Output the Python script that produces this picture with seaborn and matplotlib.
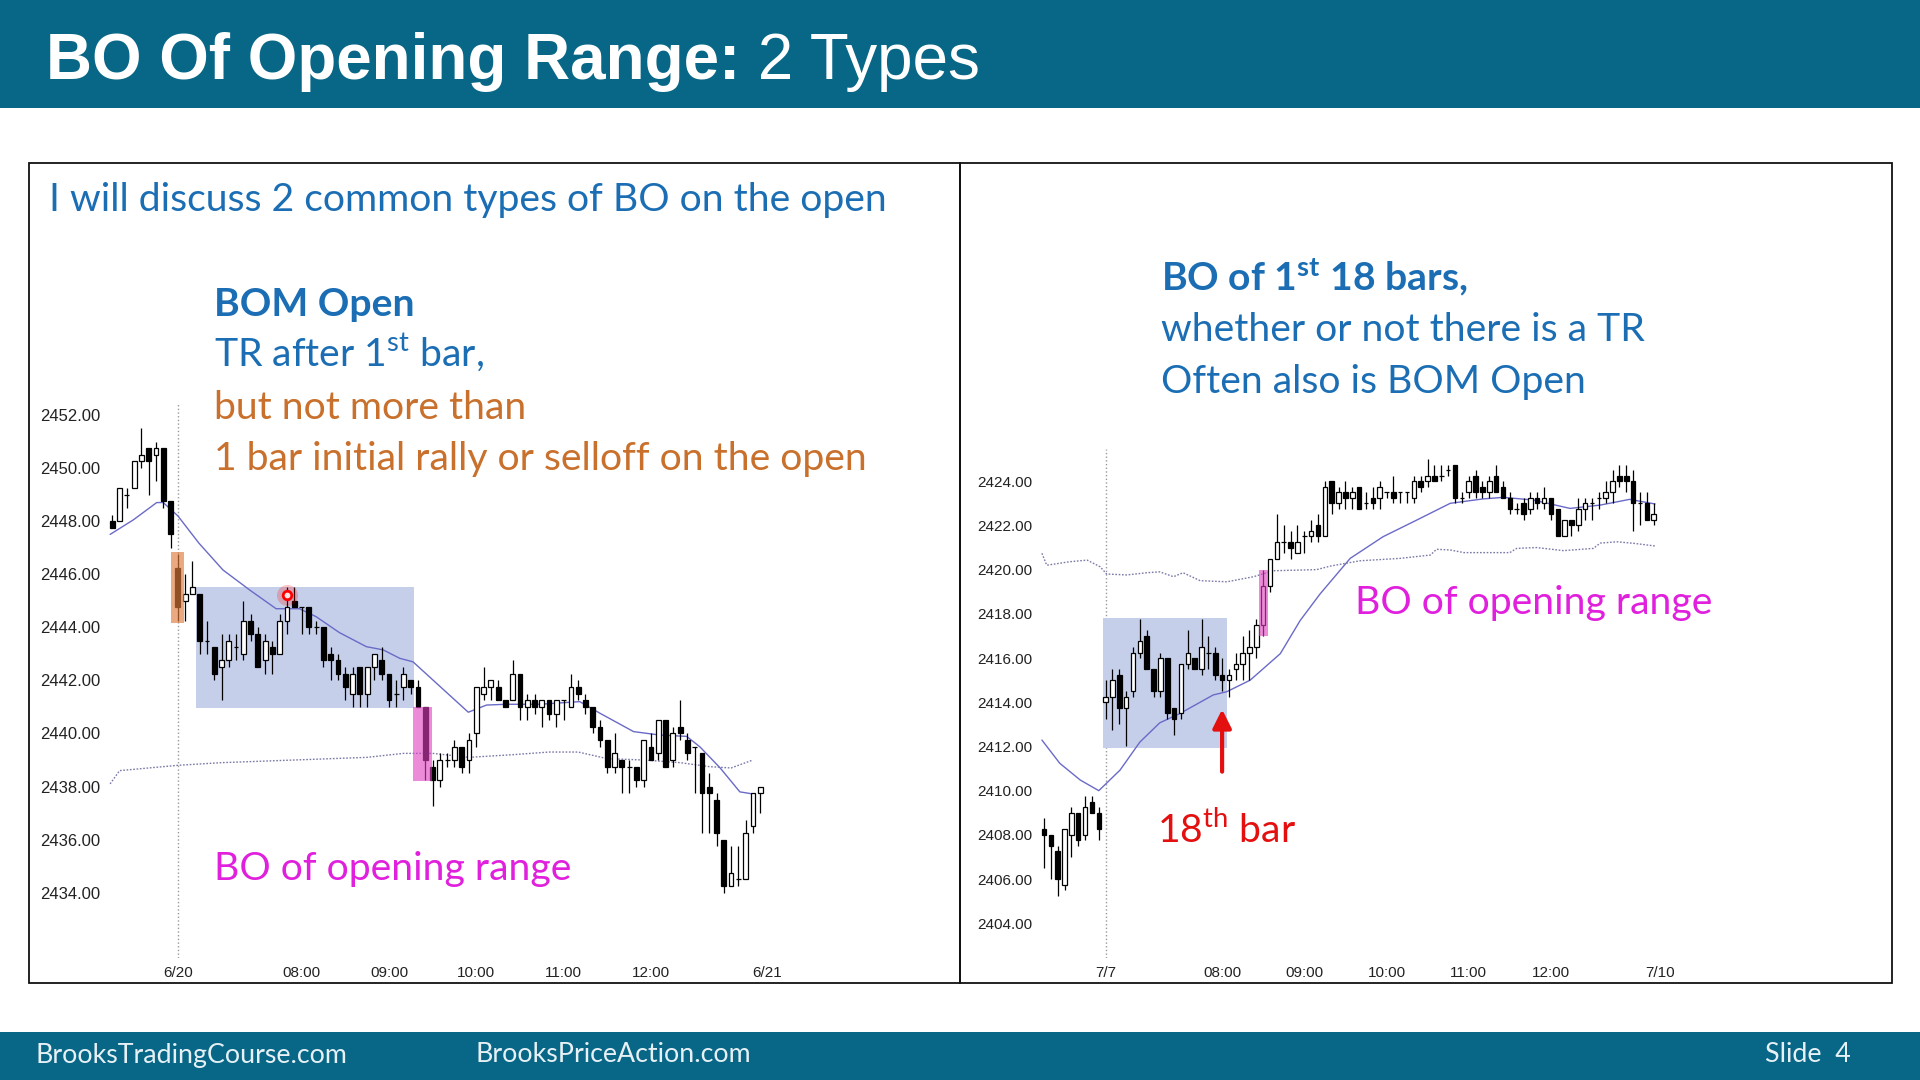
import matplotlib
matplotlib.use("Agg")
import matplotlib.pyplot as plt
from matplotlib.patches import Rectangle
import numpy as np
import seaborn as sns

# ---------------- left chart (6/20), 5 min bars, bar 9 = first bar of the day
l_open = [2448.0, 2448.0, 2449.0, 2449.25, 2450.25, 2450.75, 2450.5, 2450.75, 2448.75, 2446.25,
          2445.0, 2445.25, 2445.25, 2443.5, 2443.25, 2442.5, 2442.75, 2443.25, 2443.0, 2444.25,
          2443.75, 2442.75, 2443.25, 2443.0, 2444.25, 2445.0, 2444.75, 2444.75, 2444.0, 2444.0,
          2443.0, 2442.75, 2442.25, 2441.5, 2442.5, 2441.5, 2442.5, 2442.75, 2442.25, 2441.5,
          2441.75, 2442.0, 2441.75, 2441.0, 2438.75, 2438.25, 2439.0, 2439.0, 2439.5, 2439.0,
          2440.0, 2441.5, 2441.75, 2441.75, 2441.25, 2441.25, 2442.25, 2441.0, 2441.25, 2441.0,
          2441.25, 2440.75, 2441.25, 2441.0, 2441.75, 2441.25, 2441.0, 2440.25, 2439.75, 2438.75,
          2439.0, 2438.75, 2438.75, 2438.25, 2439.5, 2439.25, 2440.5, 2439.0, 2440.25, 2439.75,
          2439.5, 2439.25, 2438.0, 2437.5, 2436.0, 2434.25, 2434.5, 2434.5, 2436.5, 2437.75]
l_high = [2448.25, 2449.25, 2449.25, 2450.25, 2451.5, 2450.75, 2451.0, 2450.75, 2448.75, 2446.75,
          2446.0, 2446.5, 2445.25, 2444.25, 2443.25, 2443.75, 2443.75, 2443.75, 2445.0, 2444.5,
          2444.0, 2443.75, 2443.5, 2444.5, 2445.5, 2445.5, 2444.75, 2444.75, 2444.25, 2444.0,
          2443.25, 2443.0, 2442.5, 2442.5, 2442.5, 2442.5, 2443.0, 2443.25, 2442.25, 2442.0,
          2442.5, 2442.0, 2442.0, 2441.0, 2439.0, 2439.25, 2439.25, 2439.75, 2439.5, 2440.0,
          2441.75, 2442.5, 2442.0, 2442.0, 2441.25, 2442.75, 2442.25, 2441.5, 2441.5, 2441.25,
          2441.25, 2441.25, 2441.25, 2442.25, 2442.0, 2441.5, 2441.0, 2440.5, 2439.75, 2440.0,
          2439.0, 2439.0, 2438.75, 2439.75, 2440.0, 2440.5, 2440.5, 2440.25, 2441.25, 2440.0,
          2439.5, 2439.25, 2438.5, 2437.75, 2436.0, 2435.75, 2435.75, 2436.75, 2437.75, 2438.0]
l_low = [2447.75, 2448.0, 2448.5, 2449.25, 2450.0, 2449.0, 2449.5, 2448.5, 2447.0, 2444.25,
         2444.25, 2445.25, 2443.0, 2443.0, 2442.0, 2441.25, 2442.5, 2442.75, 2442.75, 2443.5,
         2442.5, 2442.25, 2442.25, 2443.0, 2443.75, 2444.75, 2443.75, 2443.75, 2443.75, 2442.5,
         2442.0, 2442.0, 2441.25, 2441.0, 2441.0, 2441.0, 2442.0, 2442.0, 2441.0, 2441.0,
         2441.25, 2441.5, 2441.0, 2438.25, 2437.25, 2438.0, 2438.75, 2438.75, 2438.5, 2438.5,
         2439.5, 2441.25, 2441.25, 2441.25, 2441.0, 2441.25, 2440.5, 2440.5, 2440.75, 2440.25,
         2440.5, 2440.25, 2440.5, 2441.0, 2441.25, 2440.75, 2440.0, 2439.5, 2438.5, 2438.5,
         2437.75, 2437.75, 2438.0, 2438.0, 2439.0, 2439.0, 2438.75, 2438.75, 2439.75, 2439.0,
         2437.75, 2436.25, 2436.25, 2435.75, 2434.0, 2434.25, 2434.25, 2434.5, 2436.25, 2437.0]
l_close = [2447.75, 2449.25, 2449.0, 2450.25, 2450.5, 2450.25, 2450.75, 2448.75, 2447.5, 2444.75,
           2445.25, 2445.5, 2443.5, 2443.5, 2442.25, 2442.75, 2443.5, 2443.25, 2444.25, 2443.75,
           2442.5, 2443.5, 2443.0, 2444.25, 2444.75, 2444.75, 2444.75, 2444.0, 2444.0, 2442.75,
           2442.75, 2442.25, 2441.75, 2442.25, 2441.5, 2442.5, 2443.0, 2442.25, 2441.25, 2441.5,
           2442.25, 2441.75, 2441.0, 2439.0, 2438.25, 2439.0, 2439.0, 2439.5, 2438.75, 2439.75,
           2441.75, 2441.75, 2442.0, 2441.25, 2441.0, 2442.25, 2441.0, 2441.25, 2441.0, 2441.25,
           2440.75, 2441.25, 2441.25, 2441.75, 2441.5, 2441.0, 2440.25, 2439.75, 2438.75, 2439.25,
           2438.75, 2438.75, 2438.25, 2439.75, 2439.0, 2440.5, 2438.75, 2440.0, 2440.0, 2439.25,
           2439.5, 2437.75, 2437.75, 2436.25, 2434.25, 2434.75, 2434.5, 2436.25, 2437.75, 2438.0]

# moving average (solid) and the dotted line, read at a few bars
l_ma_x = [-0.3, 2.9, 6.1, 7.0, 9.0, 11.9, 15.2, 18.9, 22.5, 25.7, 28.0, 31.2, 34.9, 37.2, 39.5,
          41.3, 44.1, 48.9, 51.4, 54.1, 58.7, 64.2, 67.0, 71.6, 75.2, 78.9, 80.7, 83.5, 86.2, 88.0]
l_ma_y = [2447.5, 2448.05, 2448.7, 2448.7, 2448.2, 2447.17, 2446.16, 2445.4, 2444.7, 2444.7,
          2444.4, 2443.8, 2443.27, 2443.15, 2442.83, 2442.7, 2442.0, 2440.8, 2441.07, 2441.1,
          2441.1, 2441.2, 2440.76, 2440.07, 2439.94, 2439.89, 2439.5, 2438.7, 2437.8, 2437.72]
l_dot_x = [-0.3, 1, 5, 9, 15, 25, 35, 40, 44, 49, 55, 60, 64, 68, 73, 78, 82, 85, 88]
l_dot_y = [2438.1, 2438.6, 2438.7, 2438.8, 2438.9, 2439.0, 2439.1, 2439.25, 2439.25, 2439.1,
           2439.2, 2439.3, 2439.3, 2439.05, 2439.0, 2438.9, 2438.75, 2438.7, 2439.0]

# ---------------- right chart (7/7)
r_open = [2408.25, 2408.0, 2407.25, 2405.75, 2408.0, 2409.0, 2408.0, 2409.5, 2409.0, 2414.0,
          2414.25, 2415.25, 2413.75, 2414.5, 2416.25, 2417.0, 2415.5, 2414.5, 2416.0, 2413.75,
          2413.5, 2415.75, 2416.0, 2415.5, 2416.25, 2416.25, 2415.25, 2415.0, 2415.5, 2415.75,
          2416.25, 2416.5, 2417.5, 2419.25, 2420.5, 2421.25, 2421.25, 2420.75, 2421.5, 2421.5,
          2422.0, 2421.5, 2424.0, 2423.0, 2423.5, 2423.25, 2423.75, 2423.0, 2423.25, 2423.25,
          2423.5, 2423.5, 2423.5, 2423.5, 2423.25, 2424.0, 2424.0, 2424.25, 2424.25, 2424.5,
          2424.75, 2423.25, 2423.5, 2424.25, 2423.75, 2423.5, 2424.25, 2423.75, 2423.25, 2422.75,
          2423.0, 2422.75, 2423.25, 2423.0, 2423.25, 2422.75, 2421.5, 2422.25, 2422.0, 2422.75,
          2423.0, 2423.25, 2423.25, 2423.5, 2424.25, 2424.25, 2424.0, 2423.0, 2423.0, 2422.25]
r_high = [2408.75, 2408.0, 2407.5, 2408.25, 2409.25, 2409.0, 2409.75, 2409.75, 2409.25, 2415.0,
          2415.5, 2415.5, 2414.5, 2416.5, 2417.75, 2417.25, 2415.5, 2416.25, 2416.0, 2413.75,
          2415.75, 2417.25, 2416.0, 2417.75, 2417.0, 2416.5, 2416.0, 2415.5, 2416.25, 2417.0,
          2417.25, 2417.75, 2420.0, 2420.5, 2422.5, 2422.0, 2421.75, 2422.0, 2421.75, 2422.25,
          2422.5, 2424.0, 2424.0, 2423.75, 2424.0, 2423.75, 2423.75, 2423.5, 2423.75, 2424.0,
          2423.5, 2424.25, 2423.5, 2423.5, 2424.25, 2424.25, 2425.0, 2424.75, 2424.75, 2424.75,
          2424.75, 2423.5, 2424.25, 2424.5, 2424.0, 2424.25, 2424.75, 2424.0, 2423.5, 2423.0,
          2423.25, 2423.5, 2423.5, 2423.75, 2423.25, 2422.75, 2422.25, 2422.25, 2423.25, 2423.25,
          2423.25, 2423.5, 2424.0, 2424.5, 2424.75, 2424.75, 2424.5, 2423.5, 2423.5, 2423.0]
r_low = [2406.5, 2406.0, 2405.25, 2405.5, 2407.0, 2407.5, 2407.75, 2409.0, 2407.75, 2413.25,
         2412.75, 2413.0, 2412.0, 2414.25, 2416.0, 2415.5, 2414.25, 2414.25, 2413.25, 2412.5,
         2413.25, 2415.5, 2415.5, 2415.25, 2415.5, 2415.0, 2414.5, 2414.25, 2415.0, 2415.0,
         2415.0, 2416.0, 2417.0, 2419.0, 2420.5, 2420.75, 2420.5, 2420.75, 2420.75, 2421.25,
         2421.25, 2421.5, 2422.5, 2422.75, 2422.75, 2422.75, 2422.75, 2422.75, 2422.75, 2422.75,
         2423.25, 2423.0, 2423.0, 2423.0, 2423.0, 2423.5, 2423.75, 2424.0, 2424.0, 2424.25,
         2423.0, 2423.0, 2423.25, 2423.25, 2423.25, 2423.25, 2423.5, 2423.25, 2422.5, 2422.5,
         2422.25, 2422.5, 2422.75, 2422.75, 2422.25, 2421.5, 2421.5, 2421.5, 2421.75, 2422.25,
         2422.25, 2422.75, 2423.0, 2423.0, 2423.75, 2423.5, 2421.75, 2422.0, 2422.25, 2422.0]
r_close = [2408.0, 2407.5, 2406.0, 2408.25, 2409.0, 2407.75, 2409.25, 2409.0, 2408.25, 2414.25,
           2415.0, 2413.75, 2414.25, 2416.25, 2416.75, 2415.5, 2414.5, 2416.0, 2413.5, 2413.25,
           2415.75, 2416.25, 2415.5, 2416.5, 2416.25, 2415.25, 2415.0, 2415.25, 2415.75, 2416.25,
           2416.5, 2417.5, 2419.25, 2420.5, 2421.25, 2421.25, 2421.0, 2421.25, 2421.5, 2421.75,
           2421.5, 2423.75, 2423.0, 2423.5, 2423.25, 2423.5, 2422.75, 2423.0, 2423.0, 2423.75,
           2423.5, 2423.25, 2423.5, 2423.5, 2424.0, 2423.75, 2424.25, 2424.0, 2424.25, 2424.5,
           2423.25, 2423.25, 2424.0, 2423.5, 2423.5, 2424.0, 2423.5, 2423.25, 2422.75, 2422.75,
           2422.5, 2423.25, 2423.0, 2423.25, 2422.5, 2421.5, 2422.25, 2422.0, 2422.75, 2423.0,
           2423.0, 2423.25, 2423.5, 2424.0, 2424.0, 2424.0, 2423.0, 2423.0, 2422.25, 2422.5]

r_ma_x = [-0.3, 2.3, 5.3, 8.0, 11.1, 14.0, 16.9, 19.9, 24.7, 26.7, 30.1, 34.5, 37.4, 40.3,
          44.7, 49.5, 54.4, 59.3, 64.1, 67.1, 71.4, 76.8, 81.2, 85.5, 89.2]
r_ma_y = [2412.29, 2411.24, 2410.48, 2410.0, 2410.93, 2412.2, 2413.07, 2413.5, 2414.33, 2414.48,
          2415.0, 2416.2, 2417.7, 2418.9, 2420.51, 2421.49, 2422.24, 2423.0, 2423.2, 2423.27,
          2423.15, 2422.77, 2422.92, 2423.18, 2422.97]
r_dot_x = [-0.3, 0.4, 3.8, 6.3, 8.2, 9.15, 12.1, 15.0, 16.9, 18.9, 20.3, 22.8, 26.7, 30.6, 33.5,
           39.8, 41.8, 46.1, 52.0, 56.4, 57.3, 59.3, 61.3, 68.0, 69.0, 71.9, 75.8, 80.2, 81.2,
           83.6, 86.1, 89.2]
r_dot_y = [2420.74, 2420.2, 2420.36, 2420.43, 2420.13, 2419.8, 2419.76, 2419.86, 2419.9, 2419.68,
           2419.86, 2419.5, 2419.45, 2419.68, 2419.95, 2420.0, 2420.16, 2420.4, 2420.51, 2420.66,
           2420.92, 2420.89, 2420.77, 2420.77, 2420.96, 2421.0, 2420.86, 2420.96, 2421.2, 2421.26,
           2421.19, 2421.07]

session_start = 9
tick_bars = [9, 26, 38, 50, 62, 74, 90]
l_tick_labels = ["6/20", "08:00", "09:00", "10:00", "11:00", "12:00", "6/21"]
r_tick_labels = ["7/7", "08:00", "09:00", "10:00", "11:00", "12:00", "7/10"]
l_yticks = list(range(2434, 2453, 2))
r_yticks = list(range(2404, 2425, 2))

BLUE = "#1B6EB4"
ORANGE = "#C8702C"
MAGENTA = "#E020DD"
RED = "#E41010"
TEAL = "#086786"

sns.set_theme(style="white")
plt.rcParams["font.family"] = ["Liberation Sans", "DejaVu Sans"]
plt.rcParams["mathtext.fontset"] = "custom"
plt.rcParams["mathtext.rm"] = "Lato"
plt.rcParams["mathtext.bf"] = "Lato:bold"

W, H = 1920, 1080
fig = plt.figure(figsize=(19.2, 10.8), dpi=100, facecolor="white")


def axes_px(left, top, right, bottom, **kw):
    return fig.add_axes([left / W, 1 - bottom / H, (right - left) / W, (bottom - top) / H], **kw)


def candles(ax, o, h, l, c, width=0.66):
    x = np.arange(len(o))
    o, h, l, c = (np.asarray(v, float) for v in (o, h, l, c))
    ax.vlines(x, l, h, color="black", lw=0.9, zorder=3)
    up = c >= o
    ax.bar(x, np.abs(c - o), width, bottom=np.minimum(o, c),
           color=np.where(up, "white", "black"), edgecolor="black", lw=0.9, zorder=4)


def style(ax, xlim, ylim, yticks, labels, ysize):
    ax.set_xlim(*xlim)
    ax.set_ylim(*ylim)
    ax.set_yticks(yticks)
    ax.set_yticklabels([f"{v:.2f}" for v in yticks])
    ax.set_xticks(tick_bars)
    ax.set_xticklabels(labels)
    ax.tick_params(axis="y", length=0, pad=3.6, labelsize=ysize, labelcolor="#222222")
    ax.tick_params(axis="x", length=0, pad=5.6, labelsize=11, labelcolor="#222222")
    for s in ax.spines.values():
        s.set_visible(False)
    ax.patch.set_visible(False)
    ax.grid(False)
    ax.set_xlabel("")
    ax.set_ylabel("")


DOT = dict(color="#7a7aa8", lw=1, linestyle=(0, (1.2, 1.2)), zorder=2)

# ---- left chart
axL = axes_px(105, 170, 950, 958)
candles(axL, l_open, l_high, l_low, l_close)
sns.lineplot(x=l_ma_x, y=l_ma_y, ax=axL, color="#6a6ac8", lw=1, zorder=2)
sns.lineplot(x=l_dot_x, y=l_dot_y, ax=axL, **DOT)
style(axL, (-1.003, 115.07), (2431.54, 2461.23), l_yticks, l_tick_labels, 12)
axL.plot([session_start] * 2, [2431.54, 2452.4], color="#999999", lw=1, ls=":", zorder=1)
axL.add_patch(Rectangle((11.5, 2440.95), 29.9, 4.55, fc="#C5CFE9", ec="none", zorder=1))
axL.add_patch(Rectangle((8.1, 2444.15), 1.75, 2.7, fc="#E07B3C", ec="none", alpha=0.65, zorder=5))
axL.add_patch(Rectangle((41.3, 2438.2), 2.6, 2.8, fc="#E040C0", ec="none", alpha=0.6, zorder=5))
axL.scatter([24], [2445.2], s=230, color="red", alpha=0.22, lw=0, zorder=6)
axL.scatter([24], [2445.2], s=38, fc="#ffe4e4", ec="red", lw=2, zorder=7)

# ---- right chart
axR = axes_px(1037, 170, 1885, 958)
candles(axR, r_open, r_high, r_low, r_close)
sns.lineplot(x=r_ma_x, y=r_ma_y, ax=axR, color="#6a6ac8", lw=1, zorder=2)
sns.lineplot(x=r_dot_x, y=r_dot_y, ax=axR, **DOT)
style(axR, (-1.02, 122.77), (2402.43, 2438.08), r_yticks, r_tick_labels, 11)
axR.plot([session_start] * 2, [2402.43, 2425.46], color="#999999", lw=1, ls=":", zorder=1)
axR.add_patch(Rectangle((8.66, 2411.91), 18.04, 5.89, fc="#C5CFE9", ec="none", zorder=1))
axR.add_patch(Rectangle((31.4, 2417.0), 1.3, 3.0, fc="#E040C0", ec="none", alpha=0.6, zorder=5))
axR.annotate("", xy=(26, 2413.68), xytext=(26, 2410.86),
             arrowprops=dict(arrowstyle="-|>", color=RED, lw=3, mutation_scale=28, shrinkA=0, shrinkB=0),
             zorder=8)

# ---- slide overlay (pixel coordinates)
axO = fig.add_axes([0, 0, 1, 1], zorder=10)
axO.set_xlim(0, W)
axO.set_ylim(H, 0)
axO.axis("off")
axO.patch.set_visible(False)

axO.add_patch(Rectangle((0, 0), W, 108, fc=TEAL, ec="none"))
axO.add_patch(Rectangle((0, 1032), W, 48, fc=TEAL, ec="none"))
axO.add_patch(Rectangle((29, 163), 931, 820, fc="none", ec="#111111", lw=1.3))
axO.add_patch(Rectangle((960, 163), 932, 820, fc="none", ec="#111111", lw=1.3))

rend = fig.canvas.get_renderer()


def text_w(s, size, **kw):
    t = axO.text(0, 0, s, fontsize=size, **kw)
    w = t.get_window_extent(renderer=rend).width
    t.remove()
    return w


# header
hb = dict(family="Liberation Sans", weight="bold")
hr = dict(family="Liberation Sans")
hsize = 40 * 932 / (text_w("BO Of Opening Range:", 40, **hb) + text_w(" 2 Types", 40, **hr))
t1 = axO.text(46, 79, "BO Of Opening Range:", fontsize=hsize, color="white", va="baseline", **hb)
axO.annotate(" 2 Types", xy=(1, 0), xycoords=t1, va="bottom", ha="left",
             fontsize=hsize, color="white", **hr)

# slide texts
body = dict(family="Lato")
bsize = 20 * 655 / text_w("1 bar initial rally or selloff on the open", 20, **body)


def say(x, y, s, color, bold=False):
    axO.text(x, y, s, fontsize=bsize, color=color, va="baseline", ha="left",
             weight="bold" if bold else "normal", **body)


say(49, 211, "I will discuss 2 common types of BO on the open", BLUE)
say(214, 316, "BOM Open", BLUE, bold=True)
say(214, 367, r"TR after 1$^{\mathrm{st}}$ bar,", BLUE)
say(214, 419, "but not more than", ORANGE)
say(214, 470, "1 bar initial rally or selloff on the open", ORANGE)
say(214, 880, "BO of opening range", MAGENTA)

say(1161, 290, r"BO of 1$^{\mathbf{st}}$ 18 bars,", BLUE, bold=True)
say(1161, 341, "whether or not there is a TR", BLUE)
say(1161, 393, "Often also is BOM Open", BLUE)
say(1355, 614, "BO of opening range", MAGENTA)
say(1157, 842, r"18$^{\mathrm{th}}$ bar", RED)

# footer
fsize = 20 * 311 / text_w("BrooksTradingCourse.com", 20, **body)
fkw = dict(fontsize=fsize, color="#E6F0F5", va="center", **body)
axO.text(36, 1055, "BrooksTradingCourse.com", ha="left", **fkw)
axO.text(475, 1055, "BrooksPriceAction.com", ha="left", **fkw)
axO.text(1851, 1055, "Slide  4", ha="right", **fkw)

fig.savefig("out.png", dpi=100, facecolor="white")
